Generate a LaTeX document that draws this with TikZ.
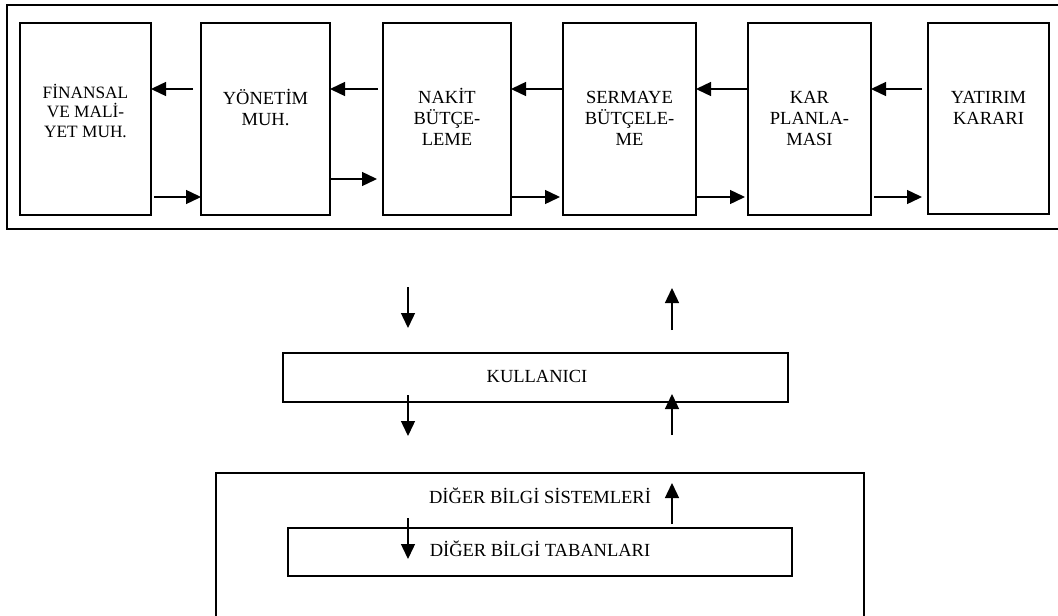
\documentclass[tikz,border=0pt]{standalone}
\usepackage{fontspec}
\setmainfont{Liberation Serif}
\usetikzlibrary{arrows.meta}
\newcommand\firstln{\rule{0pt}{17pt}}
\begin{document}
\begin{tikzpicture}[x=1pt,y=-1pt,
  box/.style={draw, line width=1.8pt, outer sep=0pt, inner sep=0pt, anchor=north west},
  lbl/.style={font=\fontsize{18.5}{21}\selectfont, align=center, inner sep=0pt, anchor=north},
  txt/.style={font=\fontsize{18.5}{21}\selectfont, inner sep=0pt, anchor=base},
  arr/.style={line width=1.4pt, -{Triangle[length=15pt,width=14pt]}}]
\useasboundingbox (0,0) rectangle (1058,616);
\clip (0,0) rectangle (1058,616);
\fill[white] (0,0) rectangle (1058,616);

% top frame and boxes
\node[box, minimum width=1060pt, minimum height=224pt] (top) at (7,5) {};
\node[box, minimum width=131pt, minimum height=192pt] (b1) at (20,23) {};
\node[box, minimum width=129pt, minimum height=192pt] (b2) at (201,23) {};
\node[box, minimum width=128pt, minimum height=192pt] (b3) at (383,23) {};
\node[box, minimum width=133pt, minimum height=192pt] (b4) at (563,23) {};
\node[box, minimum width=123pt, minimum height=192pt] (b5) at (748,23) {};
\node[box, minimum width=121pt, minimum height=191pt] (b6) at (928,23) {};

\node[lbl, font=\fontsize{17.3}{19.5}\selectfont] (t1) at ([yshift=-58pt]b1.north) {\firstln FİNANSAL\\VE MALİ-\\YET MUH.};
\node[lbl] (t2) at ([yshift=-64pt]b2.north) {\firstln YÖNETİM\\MUH.};
\node[lbl] (t3) at ([yshift=-63pt]b3.north) {\firstln NAKİT\\BÜTÇE-\\LEME};
\node[lbl] (t4) at ([yshift=-63pt]b4.north) {\firstln SERMAYE\\BÜTÇELE-\\ME};
\node[lbl] (t5) at ([yshift=-63pt]b5.north) {\firstln KAR\\PLANLA-\\MASI};
\node[lbl] (t6) at ([yshift=-63pt]b6.north) {\firstln YATIRIM\\KARARI};

% leftward arrows
\draw[arr, shorten <=8pt] (b2.west |- 0,89) -- (b1.east |- 0,89);
\draw[arr, shorten <=5pt] (b3.west |- 0,89) -- (b2.east |- 0,89);
\draw[arr, shorten <=1pt] (b4.west |- 0,89) -- (b3.east |- 0,89);
\draw[arr] (b5.west |- 0,89) -- (b4.east |- 0,89);
\draw[arr, shorten <=6pt] (b6.west |- 0,89) -- (b5.east |- 0,89);
% rightward arrows
\draw[arr, shorten <=3pt] (b1.east |- 0,197) -- (b2.west |- 0,197);
\draw[arr, shorten >=6pt] (b2.east |- 0,179) -- (b3.west |- 0,179);
\draw[arr, shorten <=1pt, shorten >=3pt] (b3.east |- 0,197) -- (b4.west |- 0,197);
\draw[arr, shorten <=1pt, shorten >=3pt] (b4.east |- 0,197) -- (b5.west |- 0,197);
\draw[arr, shorten <=3pt, shorten >=6pt] (b5.east |- 0,197) -- (b6.west |- 0,197);

% user box
\node[box, minimum width=505pt, minimum height=49pt] (k) at (283,353) {};
\node[txt] (kt) at (537,382.7) {KULLANICI};

% lower frame
\node[box, minimum width=648pt, minimum height=180pt] (dbs) at (216,473) {};
\node[box, minimum width=504pt, minimum height=48pt] (dbt) at (288,528) {};
\node[txt] (dbst) at (540,503) {DİĞER BİLGİ SİSTEMLERİ};
\node[txt] (dbtt) at (540,556.7) {DİĞER BİLGİ TABANLARI};

% vertical arrows
\coordinate (d1s) at (408,287); \coordinate (d1e) at (408,328);
\coordinate (u1s) at (672,330); \coordinate (u1e) at (672,288);
\coordinate (d2s) at (408,395); \coordinate (d2e) at (408,436);
\coordinate (u2s) at (672,435); \coordinate (u2e) at (672,394);
\coordinate (d3s) at (408,518); \coordinate (d3e) at (408,559);
\coordinate (u3s) at (672,524); \coordinate (u3e) at (672,483);
\draw[arr] (d1s) -- (d1e);
\draw[arr] (u1s) -- (u1e);
\draw[arr] (d2s) -- (d2e);
\draw[arr] (u2s) -- (u2e);
\draw[arr] (d3s) -- (d3e);
\draw[arr] (u3s) -- (u3e);
\end{tikzpicture}
\end{document}
